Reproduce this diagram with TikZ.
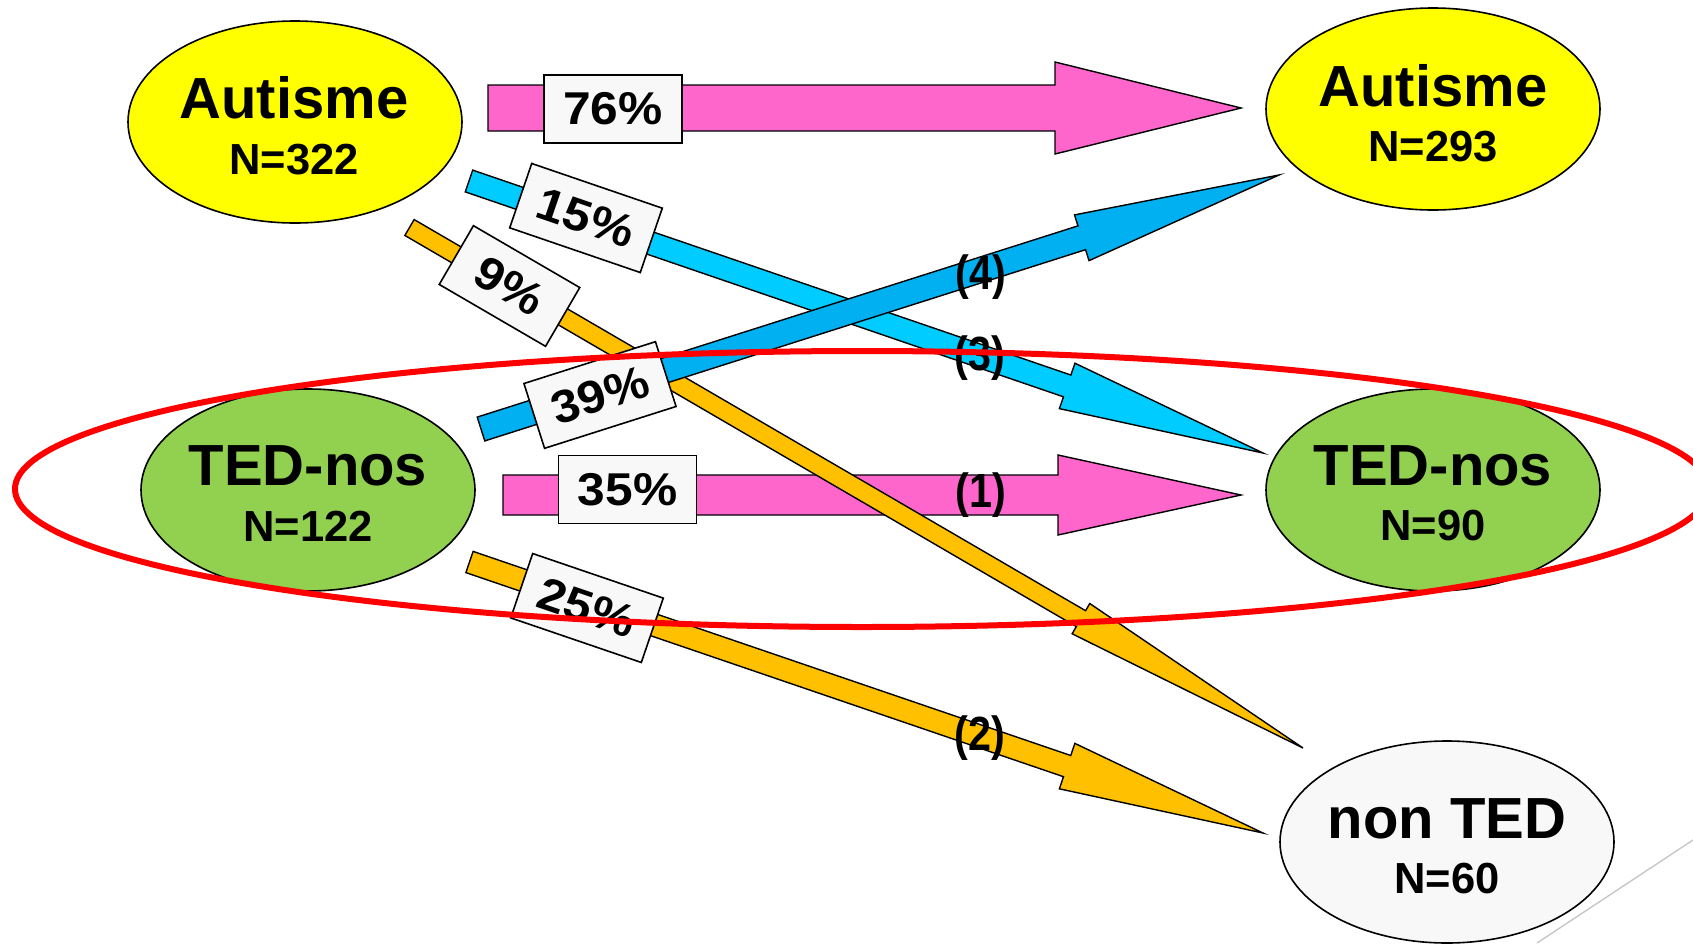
\documentclass[tikz,border=0pt]{standalone}
\usepackage{fontspec}
\setmainfont{Liberation Sans}
\newfontfamily\pctfont[FakeStretch=1.08]{Liberation Sans}
\newfontfamily\numfont[FakeStretch=0.86]{Liberation Sans}
\usetikzlibrary{calc,shapes.geometric}

\definecolor{pinkarrow}{HTML}{FF66CC}
\definecolor{lightblue}{HTML}{00CCFF}
\definecolor{darkblue}{HTML}{00B0F0}
\definecolor{orangearrow}{HTML}{FFC000}
\definecolor{autcol}{HTML}{FFFF00}
\definecolor{tedcol}{HTML}{92D050}
\definecolor{paper}{HTML}{F8F8F8}

% block arrow: #1 start, #2 tip, #3 shaft half width, #4 head half width,
% #5 head length, #6 fill colour
\newcommand\blockarrow[6]{%
  \coordinate (ba-base) at ($(#2)!#5!(#1)$);
  \filldraw[arrowline, fill=#6]
    ($(#1)!#3!90:(#2)$) -- ($(ba-base)!#3!90:(#2)$) -- ($(ba-base)!#4!90:(#2)$) -- (#2)
    -- ($(ba-base)!#4!-90:(#2)$) -- ($(ba-base)!#3!-90:(#2)$) -- ($(#1)!#3!-90:(#2)$) -- cycle;
}

\begin{document}
\begin{tikzpicture}[x=0.5pt,y=-0.5pt,
  outline/.style={draw=black, line width=0.8pt},
  stateoval/.style={ellipse, outline, minimum width=167pt, minimum height=101pt, inner sep=0pt},
  bigtext/.style={font=\fontsize{29}{30}\selectfont\bfseries, inner sep=0pt, anchor=base},
  ntext/.style={font=\fontsize{21.75}{23}\selectfont\bfseries, inner sep=0pt, anchor=base},
  pctbox/.style={outline, fill=paper, minimum width=69pt, minimum height=34pt, inner sep=0pt,
    font=\pctfont\fontsize{23}{24}\selectfont\bfseries},
  steplabel/.style={font=\numfont\fontsize{24}{25}\selectfont\bfseries, inner sep=0pt},
  arrowline/.style={draw=black, line width=0.7pt, line join=miter},
]
\fill[white] (0,0) rectangle (1693,943);
\useasboundingbox (0,0) rectangle (1693,943);

% diagnostic groups
\node[stateoval, fill=autcol] (autL) at (295,122) {};
\node[stateoval, fill=autcol] (autR) at (1433,109) {};
\node[stateoval, fill=tedcol] (tedL) at (308,490) {};
\node[stateoval, fill=tedcol] (tedR) at (1433,490) {};
\node[stateoval, fill=paper] (nonted) at (1447,842) {};

\node[bigtext] (autLa) at (294,118) {Autisme};
\node[ntext] (autLb) at (294,174) {N=322};
\node[bigtext] (autRa) at (1433,106) {Autisme};
\node[ntext] (autRb) at (1433,161) {N=293};
\node[bigtext] (tedLa) at (308,485) {TED-nos};
\node[ntext] (tedLb) at (308,541) {N=122};
\node[bigtext] (tedRa) at (1433,485) {TED-nos};
\node[ntext] (tedRb) at (1433,540) {N=90};
\node[bigtext] (nontedA) at (1447,838) {non TED};
\node[ntext] (nontedB) at (1447,893) {N=60};

% arrow ends
\coordinate (p1s) at (488,108);    \coordinate (p1t) at (1241,108);
\coordinate (p2s) at (503,495);    \coordinate (p2t) at (1241,495);
\coordinate (o1s) at (409.5,227.5); \coordinate (o1t) at (1303,748);
\coordinate (o2s) at (469.5,562);  \coordinate (o2t) at (1263,833);
\coordinate (b1s) at (469,181);    \coordinate (b1t) at (1263,453);
\coordinate (b2s) at (481,429);    \coordinate (b2t) at (1279,175);

% transitions
\blockarrow{p1s}{p1t}{11.5pt}{23pt}{93pt}{pinkarrow}
\blockarrow{p2s}{p2t}{10pt}{20pt}{91.5pt}{pinkarrow}
\blockarrow{o1s}{o1t}{4.6pt}{8.75pt}{128.5pt}{orangearrow}
\blockarrow{o2s}{o2t}{5.6pt}{12pt}{103.5pt}{orangearrow}
\blockarrow{b1s}{b1t}{5.75pt}{12pt}{103.5pt}{lightblue}
\blockarrow{b2s}{b2t}{6.25pt}{12pt}{103.5pt}{darkblue}

% percentages
\node[pctbox] (l76) at (613,109) {76\%};
\node[pctbox] (l35) at (627.5,489.5) {35\%};
\node[pctbox, rotate=-18.9] (l15) at (586,218) {15\%};
\node[pctbox, rotate=-30.2, minimum width=61.5pt] (l9) at (509.5,286) {9\%};
\node[pctbox, rotate=17.65] (l39) at (600,395) {39\%};
\node[pctbox, rotate=-18.85] (l25) at (587,608) {25\%};

% path numbers
\node[steplabel] (s4) at (981,277) {(4)};
\node[steplabel] (s3) at (980,358) {(3)};
\node[steplabel] (s1) at (981,495) {(1)};
\node[steplabel] (s2) at (980,738) {(2)};

% TED-nos group highlight
\coordinate (ring) at (862,489);
\draw[red, line width=3pt] (ring) ellipse [x radius=423.5pt, y radius=69pt];

% corner rule
\coordinate (cr1) at (1693,840);
\coordinate (cr2) at (1537,943);
\draw[black!22, line width=0.7pt] (cr1) -- (cr2);
\end{tikzpicture}
\end{document}
